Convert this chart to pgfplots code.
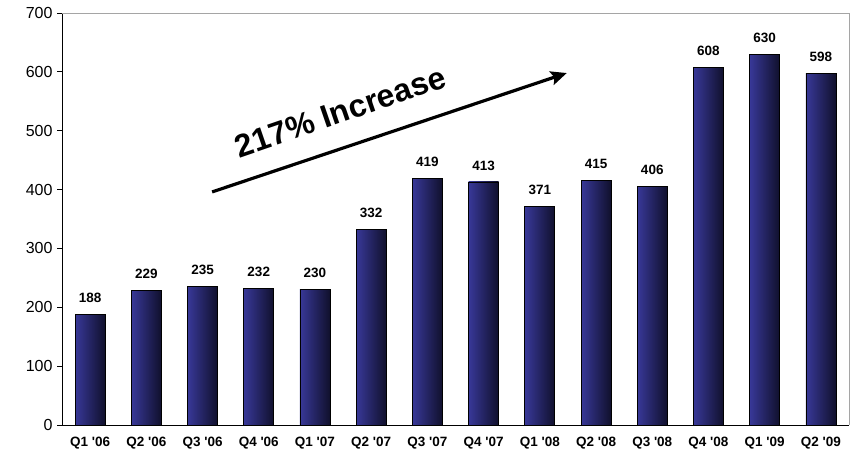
\documentclass[border=0pt]{standalone}
\usepackage{fontspec}
\setmainfont{Liberation Sans}
\usepackage{pgfplots}
\pgfplotsset{compat=1.18}
\usetikzlibrary{arrows.meta}

\definecolor{barL}{RGB}{56,56,152}
\definecolor{barM}{RGB}{44,44,124}
\definecolor{barR}{RGB}{16,16,44}
\definecolor{framegray}{RGB}{165,165,165}

\pgfplotsset{qbar/.style={ybar, bar width=30pt, bar shift=0pt, draw=black, line width=0.8pt,
         left color=barL, middle color=barM, right color=barR}}

\begin{document}
\begin{tikzpicture}
\path (-62pt,-28pt) rectangle (794pt,425pt); % page size
\begin{axis}[
    scale only axis, width=787pt, height=412pt,
    xmin=-0.5, xmax=13.5, ymin=0, ymax=700,
    axis x line*=bottom, axis y line*=left,
    axis line style={black, line width=0.8pt},
    ytick={0,100,...,700},
    xtick={0,...,13},
    xticklabels={Q1 \textquotesingle06, Q2 \textquotesingle06, Q3 \textquotesingle06, Q4 \textquotesingle06,
                 Q1 \textquotesingle07, Q2 \textquotesingle07, Q3 \textquotesingle07, Q4 \textquotesingle07,
                 Q1 \textquotesingle08, Q2 \textquotesingle08, Q3 \textquotesingle08, Q4 \textquotesingle08,
                 Q1 \textquotesingle09, Q2 \textquotesingle09},
    major x tick style={draw=none},
    extra x ticks={-0.5,0.5,...,13.5},
    extra x tick labels={},
    extra x tick style={major tick length=5pt, tick style={black, line width=0.8pt}},
    tick align=outside,
    major tick length=5pt,
    ytick style={black, line width=0.8pt},
    /pgf/number format/assume math mode=true,
    yticklabel style={font=\fontsize{16}{16}\selectfont, xshift=-1pt},
    xticklabel style={font=\bfseries\fontsize{13.5}{14}\selectfont, yshift=-4pt},
    nodes near coords,
    nodes near coords style={font=\bfseries\fontsize{13.5}{14}\selectfont, yshift=8pt, black},
    after end axis/.code={
        \draw[framegray, line width=1pt] (rel axis cs:0,1) -- (rel axis cs:1,1) -- (rel axis cs:1,0);
    },
    clip=false,
]
\addplot[qbar] coordinates {(0,188)};
\addplot[qbar] coordinates {(1,229)};
\addplot[qbar] coordinates {(2,235)};
\addplot[qbar] coordinates {(3,232)};
\addplot[qbar] coordinates {(4,230)};
\addplot[qbar] coordinates {(5,332)};
\addplot[qbar] coordinates {(6,419)};
\addplot[qbar] coordinates {(7,413)};
\addplot[qbar] coordinates {(8,371)};
\addplot[qbar] coordinates {(9,415)};
\addplot[qbar] coordinates {(10,406)};
\addplot[qbar] coordinates {(11,608)};
\addplot[qbar] coordinates {(12,630)};
\addplot[qbar] coordinates {(13,598)};

\draw[line width=3.2pt, -{Stealth[length=16pt, width=14pt, inset=3pt]}]
    (axis cs:2.17,396) -- (axis cs:8.48,598);
\node[rotate=19, font=\bfseries\fontsize{32}{32}\selectfont] at (axis cs:4.45,532) {217\% Increase};
\end{axis}
\end{tikzpicture}
\end{document}
